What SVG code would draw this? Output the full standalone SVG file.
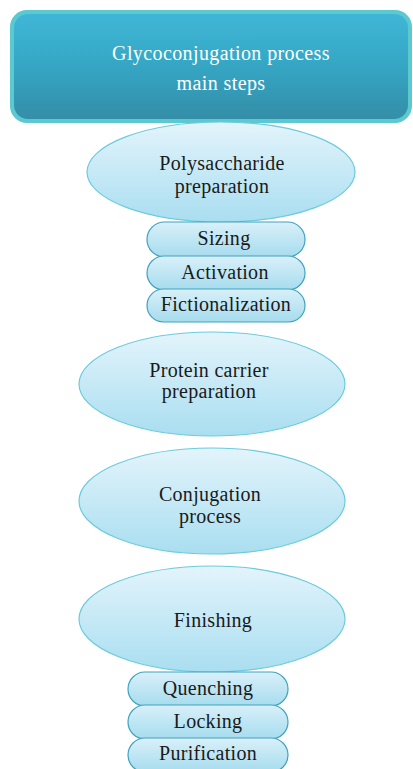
<svg xmlns="http://www.w3.org/2000/svg" width="413" height="769" viewBox="0 0 413 769">
  <defs>
    <linearGradient id="hdrFill" x1="0" y1="0" x2="0" y2="1">
      <stop offset="0" stop-color="#40b6d6"/>
      <stop offset="0.45" stop-color="#35a8c6"/>
      <stop offset="1" stop-color="#348ea8"/>
    </linearGradient>
    <linearGradient id="ovalFill" x1="0" y1="0" x2="0" y2="1">
      <stop offset="0" stop-color="#e3f4fb"/>
      <stop offset="1" stop-color="#a9def0"/>
    </linearGradient>
    <linearGradient id="pillFill" x1="0" y1="0" x2="0" y2="1">
      <stop offset="0" stop-color="#d9f0f9"/>
      <stop offset="1" stop-color="#a6dcee"/>
    </linearGradient>
    <style>
      .oval { fill: url(#ovalFill); stroke: #6ccbdc; stroke-width: 1.2; }
      .pill { fill: url(#pillFill); stroke: #3fa3bd; stroke-width: 1.2; }
      .lbl { font-family: "Liberation Serif", "DejaVu Serif", serif; font-size: 20px; letter-spacing: 0.3px; fill: #1a1a1a; text-anchor: middle; }
      .hdr { font-family: "Liberation Serif", "DejaVu Serif", serif; font-size: 20px; letter-spacing: 0.4px; fill: #ffffff; text-anchor: middle; }
    </style>
  </defs>

  <rect width="413" height="769" fill="#ffffff"/>

  <!-- title box -->
  <g id="title">
    <rect x="10" y="10" width="402" height="113" rx="17" fill="#5cc8cf"/>
    <rect x="14" y="14" width="394" height="105" rx="14" fill="url(#hdrFill)"/>
    <text class="hdr" x="221" y="60">Glycoconjugation process</text>
    <text class="hdr" x="221" y="90">main steps</text>
  </g>

  <!-- polysaccharide stage -->
  <g id="polysaccharide">
    <ellipse class="oval" cx="221" cy="172" rx="134" ry="50"/>
    <text class="lbl" x="222" y="170">Polysaccharide</text>
    <text class="lbl" x="222" y="193">preparation</text>
  </g>
  <g id="sizing">
    <rect class="pill" x="147" y="222" width="158" height="35" rx="17.5"/>
    <text class="lbl" x="224" y="245">Sizing</text>
  </g>
  <g id="activation">
    <rect class="pill" x="147" y="256" width="158" height="34" rx="17"/>
    <text class="lbl" x="225" y="279">Activation</text>
  </g>
  <g id="fictionalization">
    <rect class="pill" x="147" y="289" width="158" height="33" rx="16.5"/>
    <text class="lbl" x="226" y="311">Fictionalization</text>
  </g>

  <!-- protein carrier stage -->
  <g id="protein">
    <ellipse class="oval" cx="212" cy="384" rx="133" ry="52"/>
    <text class="lbl" x="209" y="377">Protein carrier</text>
    <text class="lbl" x="209" y="398">preparation</text>
  </g>

  <!-- conjugation stage -->
  <g id="conjugation">
    <ellipse class="oval" cx="212" cy="501" rx="133" ry="53"/>
    <text class="lbl" x="210" y="501">Conjugation</text>
    <text class="lbl" x="210" y="523">process</text>
  </g>

  <!-- finishing stage -->
  <g id="finishing">
    <ellipse class="oval" cx="212" cy="619" rx="133" ry="53"/>
    <text class="lbl" x="213" y="627">Finishing</text>
  </g>
  <g id="quenching">
    <rect class="pill" x="128" y="672" width="160" height="34" rx="17"/>
    <text class="lbl" x="208" y="695">Quenching</text>
  </g>
  <g id="locking">
    <rect class="pill" x="128" y="705" width="160" height="34" rx="17"/>
    <text class="lbl" x="208" y="728">Locking</text>
  </g>
  <g id="purification">
    <rect class="pill" x="128" y="738" width="160" height="34" rx="17"/>
    <text class="lbl" x="208" y="760">Purification</text>
  </g>

  <g id="connectors"/>
</svg>
